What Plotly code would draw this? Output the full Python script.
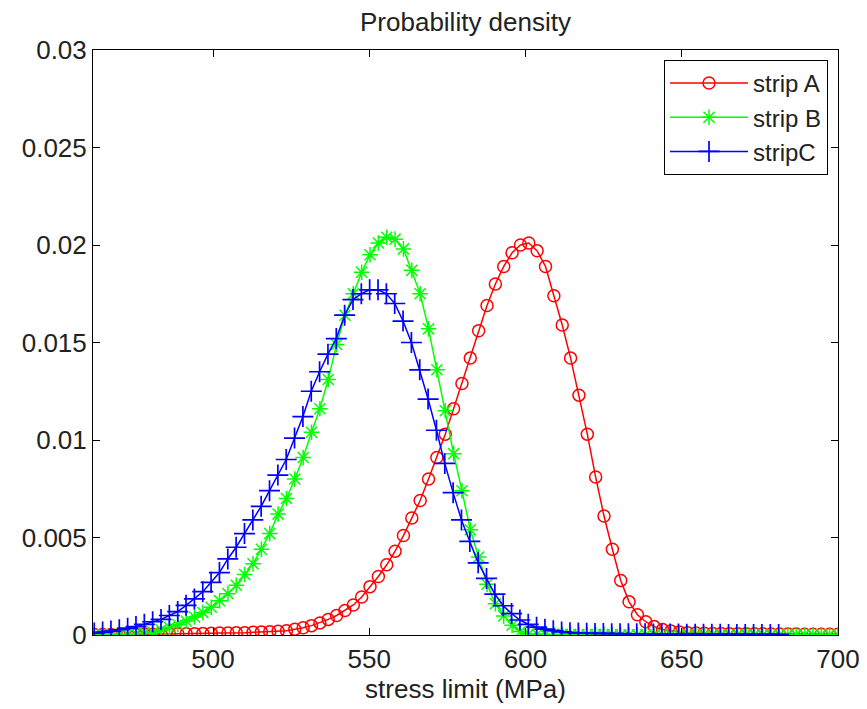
import numpy as np
import plotly.graph_objects as go

# ---- data ----
x_A = np.linspace(462, 700, 90)
y_A = [0.00002, 0.00002, 0.00002, 0.00003, 0.00003, 0.00003, 0.00004, 0.00004, 0.00005, 0.00005,
       0.00006, 0.00006, 0.00007, 0.00008, 0.00009, 0.00010, 0.00010, 0.00011, 0.00012, 0.00014,
       0.00016, 0.00017, 0.00019, 0.00022, 0.00030, 0.00037, 0.00048, 0.00062, 0.00080, 0.00100,
       0.00126, 0.00154, 0.00195, 0.00248, 0.00300, 0.00360, 0.00430, 0.00510, 0.00600, 0.00690,
       0.00800, 0.00910, 0.01030, 0.01160, 0.01290, 0.01420, 0.01560, 0.01690, 0.01800, 0.01890,
       0.01960, 0.02000, 0.02010, 0.01970, 0.01890, 0.01740, 0.01590, 0.01420, 0.01230, 0.01030,
       0.00810, 0.00610, 0.00440, 0.00280, 0.00170, 0.00104, 0.00068, 0.00043, 0.00028, 0.00020,
       0.00015, 0.00012, 0.00010, 0.00009, 0.00008, 0.00008, 0.00007, 0.00007, 0.00006, 0.00006,
       0.00006, 0.00005, 0.00005, 0.00005, 0.00005, 0.00004, 0.00004, 0.00004, 0.00004, 0.00004]

x_B = np.linspace(462, 700, 90)
y_B = [0.00001, 0.00002, 0.00003, 0.00004, 0.00005, 0.00007, 0.00009, 0.00015, 0.00027, 0.00040,
       0.00054, 0.00072, 0.00092, 0.00115, 0.00142, 0.00176, 0.00212, 0.00255, 0.00310, 0.00365,
       0.00440, 0.00520, 0.00620, 0.00700, 0.00800, 0.00910, 0.01040, 0.01160, 0.01310, 0.01490,
       0.01640, 0.01750, 0.01860, 0.01950, 0.02010, 0.02040, 0.02030, 0.01980, 0.01870, 0.01750,
       0.01570, 0.01360, 0.01150, 0.00930, 0.00740, 0.00540, 0.00400, 0.00260, 0.00160, 0.00098,
       0.00050, 0.00018, 0.00006, 0.00004, 0.00003, 0.00003, 0.00003, 0.00002, 0.00002, 0.00002,
       0.00002, 0.00002, 0.00002, 0.00001, 0.00001, 0.00001, 0.00001, 0.00001, 0.00001, 0.00001,
       0.00001, 0.00001, 0.00001, 0.00001, 0.00001, 0.00001, 0.00001, 0.00001, 0.00001, 0.00001,
       0.00001, 0.00001, 0.00001, 0.00001, 0.00001, 0.00001, 0.00001, 0.00001, 0.00001, 0.00001]

x_C = np.linspace(462, 681, 83)
y_C = [0.00010, 0.00015, 0.00020, 0.00027, 0.00035, 0.00043, 0.00055, 0.00068, 0.00080, 0.00100,
       0.00120, 0.00152, 0.00185, 0.00222, 0.00270, 0.00320, 0.00390, 0.00450, 0.00520, 0.00590,
       0.00660, 0.00740, 0.00820, 0.00900, 0.01010, 0.01120, 0.01250, 0.01350, 0.01440, 0.01520,
       0.01640, 0.01720, 0.01750, 0.01770, 0.01770, 0.01750, 0.01700, 0.01610, 0.01500, 0.01360,
       0.01210, 0.01050, 0.00880, 0.00730, 0.00590, 0.00480, 0.00370, 0.00290, 0.00210, 0.00150,
       0.00110, 0.00077, 0.00055, 0.00040, 0.00030, 0.00022, 0.00016, 0.00012, 0.00010, 0.00009,
       0.00008, 0.00008, 0.00007, 0.00007, 0.00006, 0.00006, 0.00006, 0.00005, 0.00005, 0.00005,
       0.00005, 0.00004, 0.00004, 0.00004, 0.00004, 0.00004, 0.00003, 0.00003, 0.00003, 0.00003,
       0.00003, 0.00003, 0.00003]

x_ticks = [500, 550, 600, 650, 700]
y_ticks = [0, 0.005, 0.01, 0.015, 0.02, 0.025, 0.03]
y_tick_text = ["0", "0.005", "0.01", "0.015", "0.02", "0.025", "0.03"]

FONT = "Liberation Sans, Arial, sans-serif"
FS = 26
TXT = "#222222"
W, H = 859, 701   # page body has an 8px margin

fig = go.Figure()
fig.add_trace(go.Scatter(
    x=x_A, y=y_A, mode="lines+markers", name="strip A",
    line=dict(color="#ff0000", width=1.5),
    marker=dict(symbol="circle-open", size=12, color="#ff0000", line=dict(width=1.5))))
fig.add_trace(go.Scatter(
    x=x_B, y=y_B, mode="lines+markers", name="strip B",
    line=dict(color="#00ff00", width=1.5),
    marker=dict(symbol="asterisk-open", size=13, color="#00ff00", line=dict(width=1.5, color="#00ff00"))))
fig.add_trace(go.Scatter(
    x=x_C, y=y_C, mode="lines+markers", name="stripC",
    line=dict(color="#0000ff", width=1.5),
    marker=dict(symbol="cross-thin-open", size=15, color="#0000ff", line=dict(width=1.7, color="#0000ff"))))

axis_common = dict(
    showline=True, linecolor="black", linewidth=1, mirror="ticks",
    ticks="inside", ticklen=7, tickcolor="black", tickwidth=1,
    showgrid=False, zeroline=False, automargin=False,
    tickfont=dict(family=FONT, size=FS, color=TXT),
)

fig.update_layout(
    width=W, height=H,
    margin=dict(l=85, r=29, t=42, b=74),
    paper_bgcolor="white", plot_bgcolor="white",
    font=dict(family=FONT, size=FS, color=TXT),
    title=dict(text="Probability density", x=0.5, xref="paper", xanchor="center",
               y=1 - 14 / H, yref="container", yanchor="middle",
               font=dict(family=FONT, size=FS, color=TXT)),
    xaxis=dict(range=[461.6, 700], tickvals=x_ticks, ticktext=[str(v) for v in x_ticks],
               title=dict(text="stress limit (MPa)", standoff=4,
                          font=dict(family=FONT, size=FS, color=TXT)),
               ticklabelstandoff=1, **axis_common),
    yaxis=dict(range=[0, 0.03], tickvals=y_ticks, ticktext=y_tick_text,
               ticklabelstandoff=0, **axis_common),
    legend=dict(x=0.9866, xanchor="right", y=0.983, yanchor="top",
                bgcolor="white", bordercolor="black", borderwidth=1,
                font=dict(family=FONT, size=24, color=TXT),
                tracegroupgap=0, itemwidth=78),
    showlegend=True,
)

fig.write_html("out.html")
